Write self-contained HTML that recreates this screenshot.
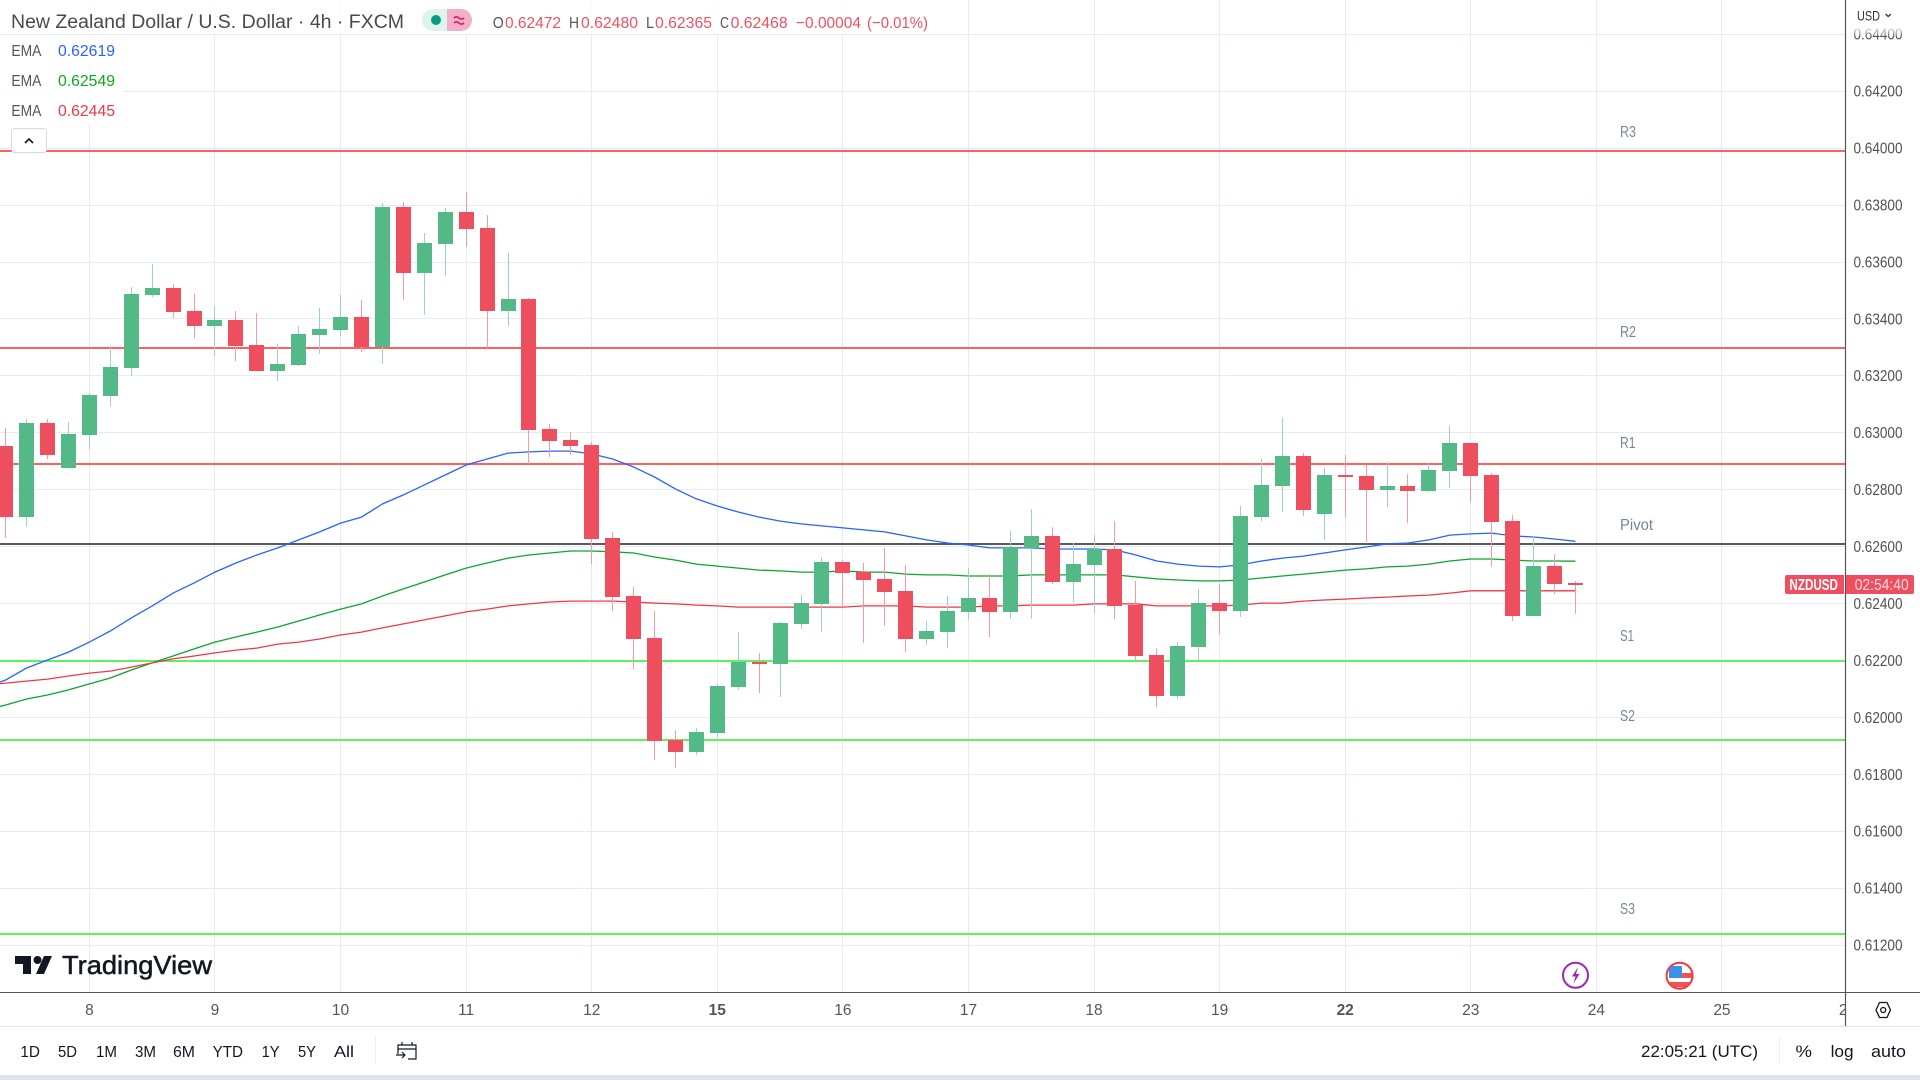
<!DOCTYPE html>
<html lang="en">
<head>
<meta charset="utf-8">
<title>NZD/USD 4h chart</title>
<style>
html,body{margin:0;padding:0;background:#fff;width:1920px;height:1080px;overflow:hidden}
svg{display:block;font-family:"Liberation Sans",sans-serif}
text{white-space:pre}
</style>
</head>
<body>
<svg id="root" xmlns="http://www.w3.org/2000/svg" width="1920" height="1080" viewBox="0 0 1920 1080">
  <defs>
    <clipPath id="plot-clip"><rect x="0" y="0" width="1845" height="992"/></clipPath>
    <clipPath id="time-clip"><rect x="0" y="993" width="1845" height="33"/></clipPath>
    <clipPath id="flag-clip"><circle cx="1679.6" cy="975.7" r="12.5"/></clipPath>
    <linearGradient id="usd-fade" x1="0" y1="0" x2="0" y2="1">
      <stop offset="0" stop-color="#fff" stop-opacity="1"/>
      <stop offset="0.72" stop-color="#fff" stop-opacity="1"/>
      <stop offset="1" stop-color="#fff" stop-opacity="0.15"/>
    </linearGradient>
  </defs>
  <rect x="0" y="0" width="1920" height="1080" fill="#fff"/>
  <g id="grid"></g>
  <g id="plot" clip-path="url(#plot-clip)">
    <g id="levels"></g>
    <g id="emas"></g>
    <g id="candles"></g>
  </g>
  <g id="level-labels"></g>

  <!-- header legend -->
  <rect x="0" y="0" width="930" height="34" fill="#fff" fill-opacity="0.8"/>
  <rect x="0" y="35" width="123" height="90" fill="#fff" fill-opacity="0.8"/>
  <text x="11" y="28" font-size="19" fill="#4a4a4a" textLength="393" lengthAdjust="spacingAndGlyphs">New Zealand Dollar / U.S. Dollar · 4h · FXCM</text>
  <g>
    <path d="M447 9H433a11 11 0 0 0 0 22H447Z" fill="#def2ee"/>
    <path d="M447 9H461a11 11 0 0 1 0 22H447Z" fill="#f4afc8"/>
    <circle cx="436" cy="20" r="5" fill="#089981"/>
    <path d="M454 18c1.6-1.6 3.2-1.6 5 0s3.400 1.600 5 0M454 23c1.600-1.600 3.200-1.600 5 0s3.400 1.600 5 0" fill="none" stroke="#d81b60" stroke-width="1.600"/>
  </g>
  <g font-size="16">
    <text x="492.700" y="28" fill="#555" textLength="11" lengthAdjust="spacingAndGlyphs">O</text>
    <text x="505" y="28" fill="#f0505f" textLength="56" lengthAdjust="spacingAndGlyphs">0.62472</text>
    <text x="569" y="28" fill="#555" textLength="10" lengthAdjust="spacingAndGlyphs">H</text>
    <text x="581" y="28" fill="#f0505f" textLength="57" lengthAdjust="spacingAndGlyphs">0.62480</text>
    <text x="646" y="28" fill="#555" textLength="8" lengthAdjust="spacingAndGlyphs">L</text>
    <text x="655" y="28" fill="#f0505f" textLength="57" lengthAdjust="spacingAndGlyphs">0.62365</text>
    <text x="720" y="28" fill="#555" textLength="9" lengthAdjust="spacingAndGlyphs">C</text>
    <text x="730.600" y="28" fill="#f0505f" textLength="57" lengthAdjust="spacingAndGlyphs">0.62468</text>
    <text x="796" y="28" fill="#f0505f" textLength="65" lengthAdjust="spacingAndGlyphs">−0.00004</text>
    <text x="867" y="28" fill="#f0505f" textLength="61" lengthAdjust="spacingAndGlyphs">(−0.01%)</text>
  </g>
  <g font-size="16">
    <text x="11.400" y="56" fill="#555" textLength="30" lengthAdjust="spacingAndGlyphs">EMA</text>
    <text x="58" y="56" fill="#2962ff" textLength="57" lengthAdjust="spacingAndGlyphs">0.62619</text>
    <text x="11.400" y="86" fill="#555" textLength="30" lengthAdjust="spacingAndGlyphs">EMA</text>
    <text x="58" y="86" fill="#0aa81f" textLength="57" lengthAdjust="spacingAndGlyphs">0.62549</text>
    <text x="11.400" y="116" fill="#555" textLength="30" lengthAdjust="spacingAndGlyphs">EMA</text>
    <text x="58" y="116" fill="#f23645" textLength="57" lengthAdjust="spacingAndGlyphs">0.62445</text>
  </g>
  <g>
    <rect x="11.500" y="128.500" width="35" height="24" rx="3" fill="#fff" stroke="#d6d9e2"/>
    <path d="M25 143l4-4 4 4" fill="none" stroke="#131722" stroke-width="1.600"/>
  </g>

  <!-- TradingView logo -->
  <g fill="#131722">
    <path d="M15 956H31V974H23V964H15Z"/>
    <circle cx="37.500" cy="960" r="4"/>
    <path d="M44 956H52L44 974H36Z"/>
    <text x="62" y="974" font-size="26" stroke="#131722" stroke-width="0.500" textLength="150" lengthAdjust="spacingAndGlyphs">TradingView</text>
  </g>

  <!-- event markers -->
  <g>
    <circle cx="1575.500" cy="975.300" r="12.500" fill="#fff" stroke="#9c27b0" stroke-width="2"/>
    <path d="M1578 967l-6 9.500h3.500l-2 7 6-9.500h-3.500Z" fill="#9c27b0"/>
  </g>
  <g>
    <circle cx="1679.600" cy="975.700" r="13" fill="#fff" stroke="#f23645" stroke-width="2"/>
    <g clip-path="url(#flag-clip)">
      <rect x="1682" y="973" width="11" height="5" fill="#ef5350"/>
      <rect x="1667" y="982" width="26" height="5" fill="#ef5350"/>
      <rect x="1669" y="966" width="13" height="12" fill="#3d8fe8"/>
    </g>
  </g>

  <!-- axes -->
  <rect x="1846" y="0" width="74" height="1026" fill="#fff"/>
  <rect x="0" y="993" width="1846" height="33" fill="#fff"/>
  <g id="price-axis"></g>
  <rect x="1847" y="0" width="73" height="36" fill="url(#usd-fade)"/>
  <g id="time-axis" clip-path="url(#time-clip)"></g>
  <line x1="0" y1="992.500" x2="1920" y2="992.500" stroke="#555" stroke-width="1"/>
  <line x1="1845.500" y1="0" x2="1845.500" y2="1026" stroke="#555" stroke-width="1.200"/>
  <text x="1857" y="20.500" font-size="14" fill="#333" textLength="23" lengthAdjust="spacingAndGlyphs">USD</text>
  <path d="M1885.500 14l2.700 2.500 2.700-2.500" fill="none" stroke="#333" stroke-width="1.300"/>
  <g>
    <path d="M1787 575H1844V594H1787a2 2 0 0 1-2-2V577a2 2 0 0 1 2-2Z" fill="#ee4f5f"/>
    <path d="M1846 575H1912a2 2 0 0 1 2 2V592a2 2 0 0 1-2 2H1846Z" fill="#ee4f5f"/>
    <text x="1789.400" y="590" font-size="15.500" font-weight="bold" fill="#fff" textLength="48.600" lengthAdjust="spacingAndGlyphs">NZDUSD</text>
    <text x="1854.700" y="590" font-size="15.500" fill="#fcdbe0" textLength="54" lengthAdjust="spacingAndGlyphs">02:54:40</text>
  </g>
  <g fill="none" stroke="#131722" stroke-width="1.300">
    <path d="M1876 1010l3.500-7.500h7.500l3.500 7.500-3.500 7.500h-7.500Z"/>
    <circle cx="1883.200" cy="1010" r="2.500"/>
  </g>

  <!-- bottom toolbar -->
  <line x1="0" y1="1026.500" x2="1920" y2="1026.500" stroke="#e0e3eb"/>
  <g font-size="16" fill="#131722">
    <text x="20.400" y="1057" textLength="19.600" lengthAdjust="spacingAndGlyphs">1D</text>
    <text x="58" y="1057" textLength="19" lengthAdjust="spacingAndGlyphs">5D</text>
    <text x="96" y="1057" textLength="21" lengthAdjust="spacingAndGlyphs">1M</text>
    <text x="135" y="1057" textLength="21" lengthAdjust="spacingAndGlyphs">3M</text>
    <text x="173" y="1057" textLength="22" lengthAdjust="spacingAndGlyphs">6M</text>
    <text x="212.600" y="1057" textLength="30.400" lengthAdjust="spacingAndGlyphs">YTD</text>
    <text x="261.600" y="1057" textLength="18" lengthAdjust="spacingAndGlyphs">1Y</text>
    <text x="298" y="1057" textLength="18" lengthAdjust="spacingAndGlyphs">5Y</text>
    <text x="334" y="1057" textLength="20" lengthAdjust="spacingAndGlyphs">All</text>
  </g>
  <line x1="375.500" y1="1037" x2="375.500" y2="1064" stroke="#eceef3"/>
  <g fill="none" stroke="#131722" stroke-width="1.200">
    <path d="M398 1054V1045h18v14h-8M398 1049h18M402 1042v3M412 1042v3"/>
    <path d="M396 1055h9m-3-3l3 3-3 3"/>
  </g>
  <text x="1641" y="1057" font-size="17" fill="#131722" textLength="117" lengthAdjust="spacingAndGlyphs">22:05:21 (UTC)</text>
  <line x1="1779.500" y1="1037" x2="1779.500" y2="1064" stroke="#eceef3"/>
  <text x="1795.500" y="1057" font-size="17" fill="#131722" textLength="16.500" lengthAdjust="spacingAndGlyphs">%</text>
  <text x="1830.600" y="1057" font-size="17" fill="#131722" textLength="23" lengthAdjust="spacingAndGlyphs">log</text>
  <text x="1871" y="1057" font-size="17" fill="#131722" textLength="35" lengthAdjust="spacingAndGlyphs">auto</text>
  <rect x="0" y="1075" width="1920" height="5" fill="#e0e3eb"/>
</svg>

<script>
// All prices are in units of 0.00001. Bar index 0 is the first bar of day "8".
const firstBar = -4;
const emaFirstBar = -5;
const opens = [62954,62704,63035,62877,62992,63130,63228,63484,63509,63428,63375,63396,63309,63217,63238,63344,63361,63407,63301,63793,63562,63663,63776,63720,63428,63470,63014,62975,62957,62631,62427,62279,61921,61879,61946,62107,62195,62188,62329,62399,62546,62511,62487,62445,62276,62300,62371,62420,62371,62596,62638,62476,62536,62592,62395,62220,62076,62248,62402,62374,62704,62813,62919,62715,62852,62849,62799,62813,62796,62866,62964,62852,62690,62357,62532,62472];
const highs = [63017,63049,63049,63038,63140,63305,63512,63593,63523,63488,63446,63428,63421,63312,63375,63439,63484,63467,63807,63811,63702,63790,63846,63765,63632,63474,63031,63003,62968,62652,62459,62374,61956,61963,62118,62300,62227,62336,62430,62564,62553,62543,62596,62536,62339,62427,62525,62504,62655,62732,62669,62613,62641,62690,62480,62244,62265,62452,62469,62743,62908,63052,62929,62877,62922,62887,62898,62855,62894,63024,62964,62859,62711,62638,62574,62480];
const lows = [62631,62669,62908,62877,62943,63094,63200,63477,63403,63333,63270,63252,63217,63182,63235,63277,63340,63284,63242,63467,63414,63551,63653,63298,63375,62891,62915,62922,62539,62374,62170,61851,61823,61868,61932,62097,62086,62072,62311,62300,62388,62262,62322,62230,62255,62244,62343,62283,62346,62346,62469,62406,62367,62346,62202,62037,62065,62202,62293,62353,62690,62722,62708,62624,62704,62617,62739,62683,62792,62806,62757,62529,62339,62357,62434,62365];
const closes = [62704,63035,62922,62996,63133,63231,63488,63509,63425,63375,63396,63305,63217,63242,63347,63365,63407,63301,63793,63562,63667,63776,63716,63428,63470,63010,62971,62954,62627,62423,62276,61918,61879,61949,62111,62195,62188,62332,62402,62546,62508,62483,62441,62276,62304,62374,62420,62371,62599,62638,62476,62539,62592,62392,62216,62076,62251,62402,62374,62708,62817,62919,62729,62852,62845,62799,62813,62796,62870,62964,62849,62687,62357,62532,62469,62468];
const emaBlue = [62105,62132,62174,62202,62230,62265,62304,62350,62392,62437,62473,62511,62543,62571,62596,62624,62652,62683,62704,62750,62782,62817,62852,62887,62908,62929,62933,62936,62936,62926,62908,62880,62845,62803,62768,62743,62722,62704,62690,62680,62673,62666,62659,62652,62638,62624,62613,62606,62596,62596,62596,62592,62592,62592,62589,62571,62550,62539,62532,62529,62536,62550,62560,62567,62578,62589,62599,62610,62613,62624,62641,62645,62648,62638,62634,62627,62619];
const emaGreen = [62025,62044,62065,62079,62097,62118,62139,62167,62192,62216,62241,62265,62283,62300,62318,62339,62360,62381,62399,62427,62452,62476,62501,62525,62543,62560,62571,62578,62585,62585,62582,62578,62564,62553,62539,62532,62525,62518,62515,62511,62511,62515,62511,62511,62504,62501,62501,62497,62497,62497,62501,62501,62501,62501,62501,62494,62487,62483,62480,62480,62483,62490,62497,62504,62511,62518,62522,62529,62532,62539,62550,62557,62557,62553,62550,62550,62549];
const emaRed = [62114,62121,62128,62135,62146,62156,62163,62177,62192,62206,62216,62227,62237,62244,62258,62265,62276,62290,62300,62315,62329,62343,62357,62371,62381,62392,62399,62406,62409,62409,62409,62406,62402,62399,62395,62392,62388,62388,62388,62388,62388,62388,62392,62392,62392,62388,62388,62388,62392,62392,62395,62395,62395,62399,62399,62399,62392,62392,62392,62392,62395,62402,62402,62409,62413,62416,62420,62423,62427,62430,62437,62445,62445,62445,62445,62445,62445];
const priceTicks = [64400,64200,64000,63800,63600,63400,63200,63000,62800,62600,62400,62200,62000,61800,61600,61400,61200];
const dayLabels = ['8','9','10','11','12','15','16','17','18','19','22','23','24','25','26'];
const dayBars = [0,6,12,18,24,30,36,42,48,54,60,66,72,78,84];
const boldDays = ['15','22'];
const levelNames = ['R3','R2','R1','Pivot','S1','S2','S3'];
const levelPrices = [63990,63298,62891,62610,62199,61921,61240];
const levelKinds = ['resistance','resistance','resistance','pivot','support','support','support'];

const NS = 'http://www.w3.org/2000/svg';
const priceAxis = p => 34.3 + (64400 - p) * 0.28468;
const barAxis = i => 89.4 + i * 20.93;
const snap = v => Math.floor(v) + 0.5;
const make = (tag, parent) => { const el = document.createElementNS(NS, tag); parent.appendChild(el); return el; };
const gridG = document.getElementById('grid');
const levelsG = document.getElementById('levels');
const levelLabelsG = document.getElementById('level-labels');
const emasG = document.getElementById('emas');
const candlesG = document.getElementById('candles');
const priceAxisG = document.getElementById('price-axis');
const timeAxisG = document.getElementById('time-axis');

priceTicks.forEach(p => {
  const y = priceAxis(p);
  const line = make('line', gridG);
  
  
  line.setAttribute('x1', 0); line.setAttribute('x2', 1845);
  line.setAttribute('y1', snap(y)); line.setAttribute('y2', snap(y));
  line.setAttribute('stroke', '#e4ebf2');
  const label = make('text', priceAxisG);
  
  
  label.setAttribute('x', 1853.5); label.setAttribute('y', y + 5.3);
  label.setAttribute('font-size', 16); label.setAttribute('fill', '#505050');
  label.setAttribute('textLength', 49); label.setAttribute('lengthAdjust', 'spacingAndGlyphs');
  label.textContent = (p / 100000).toFixed(5);
});

dayLabels.forEach((d, k) => {
  const x = barAxis(dayBars[k]);
  if (x < 1845) {
    const line = make('line', gridG);
    
    
    line.setAttribute('x1', snap(x)); line.setAttribute('x2', snap(x));
    line.setAttribute('y1', 0); line.setAttribute('y2', 992);
    line.setAttribute('stroke', '#e4ebf2');
  }
  const label = make('text', timeAxisG);
  
  
  label.setAttribute('x', x); label.setAttribute('y', 1015);
  label.setAttribute('font-size', 15.5); label.setAttribute('fill', '#555');
  label.setAttribute('text-anchor', 'middle');
  if (boldDays.includes(d)) label.setAttribute('font-weight', 'bold');
  label.textContent = d;
});

const labelOffsets = { R3: -14, R2: -11, R1: -16, Pivot: -14, S1: -20, S2: -19, S3: -20 };
const labelWidths = { R3: 16, R2: 16, R1: 15.5, Pivot: 33, S1: 14, S2: 15, S3: 15 };
levelNames.forEach((name, k) => {
  const y = Math.round(priceAxis(levelPrices[k]));
  const kind = levelKinds[k];
  const line = make('line', levelsG);
  
  
  line.setAttribute('x1', 0); line.setAttribute('x2', 1845);
  line.setAttribute('y1', y); line.setAttribute('y2', y);
  line.setAttribute('stroke-width', 2);
  line.setAttribute('stroke', kind === 'resistance' ? '#ff5f5f' : kind === 'support' ? '#5ff25f' : '#5a5a5a');
  const label = make('text', levelLabelsG);
  
  
  label.setAttribute('x', 1620);
  label.setAttribute('font-size', 15.5); label.setAttribute('fill', '#758696');
  label.setAttribute('y', y + labelOffsets[name]);
  label.setAttribute('textLength', labelWidths[name]);
  label.setAttribute('lengthAdjust', 'spacingAndGlyphs');
  label.textContent = name;
});

[[emaBlue, '#2962ff', 'ema-blue-line'], [emaGreen, '#0ca62a', 'ema-green-line'], [emaRed, '#f23645', 'ema-red-line']].forEach(s => {
  const path = make('polyline', emasG);
  
  
  path.setAttribute('fill', 'none');
  path.setAttribute('stroke', s[1]);
  path.setAttribute('stroke-width', 1.3);
  path.setAttribute('points', s[0].map((v, k) => barAxis(emaFirstBar + k).toFixed(1) + ',' + priceAxis(v).toFixed(1)).join(' '));
});

opens.forEach((o, k) => {
  const c = closes[k];
  const x = barAxis(firstBar + k);
  const up = c > o;
  const top = Math.round(priceAxis(Math.max(o, c)));
  const bot = Math.round(priceAxis(Math.min(o, c)));
  const wick = make('line', candlesG);
  
  
  wick.setAttribute('x1', snap(x)); wick.setAttribute('x2', snap(x));
  wick.setAttribute('y1', priceAxis(highs[k]).toFixed(1));
  wick.setAttribute('y2', priceAxis(lows[k]).toFixed(1));
  wick.setAttribute('stroke', up ? '#a2cdcb' : '#f79aa6');
  const body = make('rect', candlesG);
  
  
  body.setAttribute('x', Math.round(x - 7.5));
  body.setAttribute('width', 15);
  body.setAttribute('y', top);
  body.setAttribute('height', Math.max(2, bot - top));
  body.setAttribute('fill', up ? '#53b987' : '#ee4f5f');
});
</script>
</body>
</html>
